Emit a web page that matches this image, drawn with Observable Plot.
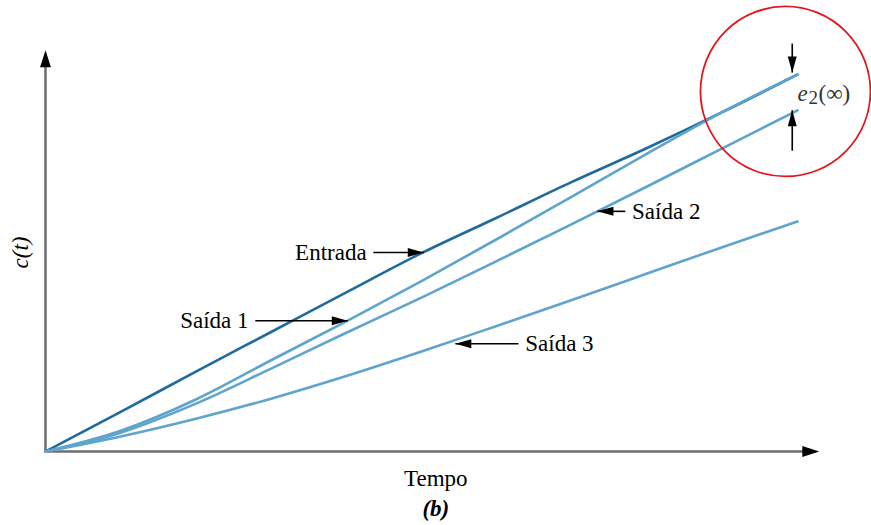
<!DOCTYPE html>
<html>
<head>
<meta charset="utf-8">
<script src="https://cdn.jsdelivr.net/npm/d3@7"></script>
<script src="https://cdn.jsdelivr.net/npm/@observablehq/plot@0.6"></script>
<style>
  html, body { margin: 0; padding: 0; background: #fff; }
</style>
</head>
<body>
<div id="chart"></div>
<script>
// Time samples (arbitrary units)
const tempo = [0, 1, 2, 3, 4, 5, 6, 7, 8, 9, 10];
// Series values
const entrada = [0, 1.05, 2.12, 3.17, 4.22, 5.26, 6.2, 7.15, 8.05, 9.0, 10];
const saida1  = [0, 0.55, 1.38, 2.42, 3.45, 4.52, 5.63, 6.76, 7.9, 9.0, 10];
const saida2  = [0, 0.5, 1.27, 2.2, 3.15, 4.08, 5.05, 6.03, 7.03, 8.04, 9.05];
const saida3  = [0, 0.4, 0.87, 1.4, 2.0, 2.65, 3.33, 4.02, 4.72, 5.42, 6.1];

const seriesNames = ["Entrada", "Saída 1", "Saída 2", "Saída 3"];
const seriesValues = [entrada, saida1, saida2, saida3];
const seriesColors = ["#1f6a9c", "#5ea4cc", "#5ea4cc", "#5ea4cc"];

// Annotation labels with pointer arrows (in data units)
const labelText = ["Entrada", "Saída 1", "Saída 2", "Saída 3"];
const labelX    = [4.27, 2.70, 7.80, 6.38];
const labelY    = [5.28, 3.47, 6.37, 2.86];
const labelAnchor = ["end", "end", "start", "start"];
const arrowX1 = [4.36, 2.79, 7.71, 6.29];
const arrowX2 = [5.03, 4.02, 7.34, 5.45];

const table = [];
seriesNames.forEach((s, i) => tempo.forEach((t, j) => table.push({s, t, v: seriesValues[i][j]})));
const labels = labelText.map((text, i) => ({text, x: labelX[i], y: labelY[i], x1: arrowX1[i], x2: arrowX2[i], anchor: labelAnchor[i]}));

// Error arrows e2(∞) at the end
const errX = 9.93;
const errTop = [10.82, 10.05];
const errBottom = [7.98, 9.05];

const head = (ratio) => ({
  draw(ctx, size) {
    const L = Math.sqrt(size / Math.PI);
    const w = L * ratio;
    ctx.moveTo(0, 0);
    ctx.lineTo(-L, -w);
    ctx.lineTo(-L, w);
    ctx.closePath();
  }
});
const axisHead = head(0.32);
const noteHead = head(0.28);

const serif = "'Liberation Serif', 'Times New Roman', serif";
const txt = {fontFamily: serif, fontSize: 23, fill: "#000"};

const chart = Plot.plot({
  width: 871,
  height: 525,
  marginLeft: 45,
  marginRight: 74,
  marginTop: 74,
  marginBottom: 74,
  x: {domain: [0, 10], axis: null},
  y: {domain: [0, 10], axis: null},
  style: {fontFamily: serif, background: "#fff"},
  marks: [
    // axes
    Plot.link([0], {x1: 0, y1: 0, x2: 10.1, y2: 0, stroke: "#6e6e6e", strokeWidth: 2.5}),
    Plot.link([0], {x1: 0, y1: 0, x2: 0, y2: 10.5, stroke: "#6e6e6e", strokeWidth: 2.5}),
    Plot.dot([0], {x: 10.29, y: 0, symbol: axisHead, r: 17, fill: "#000", stroke: "none", rotate: 0}),
    Plot.dot([0], {x: 0, y: 10.64, symbol: axisHead, r: 17, fill: "#000", stroke: "none", rotate: -90}),
    // series
    Plot.line(table, {x: "t", y: "v", z: "s", stroke: (d) => seriesColors[seriesNames.indexOf(d.s)], strokeWidth: 2.6, curve: "monotone-x"}),
    // pointer arrows
    Plot.link(labels, {x1: "x1", y1: "y", x2: "x2", y2: "y", stroke: "#000", strokeWidth: 1.6}),
    Plot.dot(labels, {x: "x2", y: "y", symbol: noteHead, r: 16, fill: "#000", stroke: "none", rotate: (d) => d.x2 > d.x1 ? 0 : 180}),
    Plot.text(labels.filter((d) => d.anchor === "end"), {x: "x", y: "y", text: "text", textAnchor: "end", ...txt}),
    Plot.text(labels.filter((d) => d.anchor === "start"), {x: "x", y: "y", text: "text", textAnchor: "start", ...txt}),
    // error arrows
    Plot.link([0], {x1: errX, y1: errTop[0], x2: errX, y2: errTop[1], stroke: "#000", strokeWidth: 1.6}),
    Plot.dot([0], {x: errX, y: errTop[1], symbol: noteHead, r: 16, fill: "#000", stroke: "none", rotate: 90}),
    Plot.link([0], {x1: errX, y1: errBottom[0], x2: errX, y2: errBottom[1], stroke: "#000", strokeWidth: 1.6}),
    Plot.dot([0], {x: errX, y: errBottom[1], symbol: noteHead, r: 16, fill: "#000", stroke: "none", rotate: -90}),
    Plot.text(["e"], {x: 10.0, y: 9.5, text: (d) => d, textAnchor: "start", ...txt, fontStyle: "italic", fill: "#333"}),
    Plot.text(["2"], {x: 10.0, y: 9.5, dx: 11, dy: 5, text: (d) => d, textAnchor: "start", ...txt, fontSize: 19, fill: "#333"}),
    Plot.text(["(∞)"], {x: 10.0, y: 9.5, dx: 21, text: (d) => d, textAnchor: "start", ...txt, fill: "#333"}),
    // red circle
    Plot.dot([0], {x: 9.84, y: 9.55, r: 85, fill: "none", stroke: "#e8141c", strokeWidth: 1.8}),
    // axis titles
    Plot.text(["c(t)"], {x: -0.33, y: 5.28, text: (d) => d, rotate: -90, ...txt, fontStyle: "italic"}),
    Plot.text(["Tempo"], {x: 5.19, y: -0.72, text: (d) => d, ...txt}),
    Plot.text(["(b)"], {x: 5.19, y: -1.52, text: (d) => d, ...txt, fontWeight: "bold", fontStyle: "italic"})
  ]
});
document.getElementById("chart").append(chart);
</script>
</body>
</html>
